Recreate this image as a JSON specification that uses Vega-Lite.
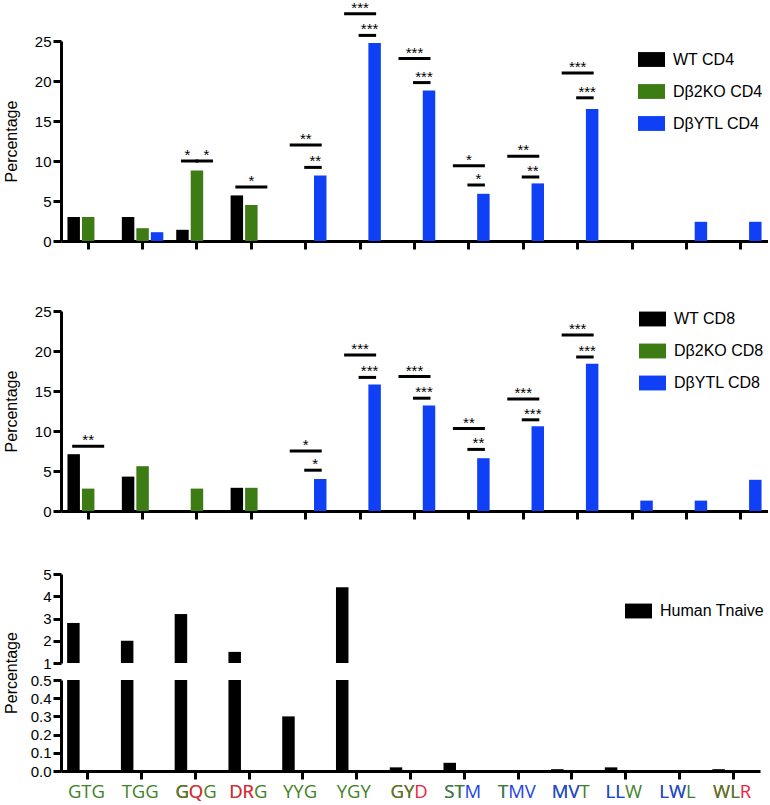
{
  "$schema": "https://vega.github.io/schema/vega-lite/v6.json",
  "padding": {"left": 3, "top": 0, "right": 0, "bottom": 0},
  "spacing": 63,
  "bounds": "flush",
  "datasets": {
    "cd4": [
      {"cat": "GTG", "sample": "WT", "pct": 3.0},
      {"cat": "GTG", "sample": "KO", "pct": 3.0},
      {"cat": "TGG", "sample": "WT", "pct": 3.0},
      {"cat": "TGG", "sample": "KO", "pct": 1.6},
      {"cat": "TGG", "sample": "YTL", "pct": 1.1},
      {"cat": "GQG", "sample": "WT", "pct": 1.4},
      {"cat": "GQG", "sample": "KO", "pct": 8.8},
      {"cat": "DRG", "sample": "WT", "pct": 5.7},
      {"cat": "DRG", "sample": "KO", "pct": 4.5},
      {"cat": "YYG", "sample": "YTL", "pct": 8.2},
      {"cat": "YGY", "sample": "YTL", "pct": 24.75},
      {"cat": "GYD", "sample": "YTL", "pct": 18.8},
      {"cat": "STM", "sample": "YTL", "pct": 5.9},
      {"cat": "TMV", "sample": "YTL", "pct": 7.2},
      {"cat": "MVT", "sample": "YTL", "pct": 16.5},
      {"cat": "LWL", "sample": "YTL", "pct": 2.4},
      {"cat": "WLR", "sample": "YTL", "pct": 2.4}
    ],
    "cd8": [
      {"cat": "GTG", "sample": "WT", "pct": 7.1},
      {"cat": "GTG", "sample": "KO", "pct": 2.8},
      {"cat": "TGG", "sample": "WT", "pct": 4.3},
      {"cat": "TGG", "sample": "KO", "pct": 5.6},
      {"cat": "GQG", "sample": "KO", "pct": 2.8},
      {"cat": "DRG", "sample": "WT", "pct": 2.9},
      {"cat": "DRG", "sample": "KO", "pct": 2.9},
      {"cat": "YYG", "sample": "YTL", "pct": 4.0},
      {"cat": "YGY", "sample": "YTL", "pct": 15.8},
      {"cat": "GYD", "sample": "YTL", "pct": 13.2},
      {"cat": "STM", "sample": "YTL", "pct": 6.6},
      {"cat": "TMV", "sample": "YTL", "pct": 10.6},
      {"cat": "MVT", "sample": "YTL", "pct": 18.4},
      {"cat": "LLW", "sample": "YTL", "pct": 1.3},
      {"cat": "LWL", "sample": "YTL", "pct": 1.3},
      {"cat": "WLR", "sample": "YTL", "pct": 3.9}
    ],
    "tn": [
      {"cat": "GTG", "sample": "Human Tnaive", "pct": 2.8},
      {"cat": "TGG", "sample": "Human Tnaive", "pct": 2.0},
      {"cat": "GQG", "sample": "Human Tnaive", "pct": 3.2},
      {"cat": "DRG", "sample": "Human Tnaive", "pct": 1.5},
      {"cat": "YYG", "sample": "Human Tnaive", "pct": 0.3},
      {"cat": "YGY", "sample": "Human Tnaive", "pct": 4.4},
      {"cat": "GYD", "sample": "Human Tnaive", "pct": 0.02},
      {"cat": "STM", "sample": "Human Tnaive", "pct": 0.045},
      {"cat": "MVT", "sample": "Human Tnaive", "pct": 0.01},
      {"cat": "LLW", "sample": "Human Tnaive", "pct": 0.02},
      {"cat": "WLR", "sample": "Human Tnaive", "pct": 0.01}
    ],
    "sig4": [
      {"cat": "GQG", "from": "WT", "to": "KO", "y": 10.0, "stars": "*"},
      {"cat": "GQG", "from": "KO", "to": "YTL", "y": 10.0, "stars": "*"},
      {"cat": "DRG", "from": "WT", "to": "YTL", "y": 6.75, "stars": "*"},
      {"cat": "YYG", "from": "WT", "to": "YTL", "y": 12.0, "stars": "**"},
      {"cat": "YYG", "from": "KO", "to": "YTL", "y": 9.2, "stars": "**"},
      {"cat": "YGY", "from": "WT", "to": "YTL", "y": 28.4, "stars": "***"},
      {"cat": "YGY", "from": "KO", "to": "YTL", "y": 25.7, "stars": "***"},
      {"cat": "GYD", "from": "WT", "to": "YTL", "y": 22.8, "stars": "***"},
      {"cat": "GYD", "from": "KO", "to": "YTL", "y": 19.8, "stars": "***"},
      {"cat": "STM", "from": "WT", "to": "YTL", "y": 9.4, "stars": "*"},
      {"cat": "STM", "from": "KO", "to": "YTL", "y": 7.0, "stars": "*"},
      {"cat": "TMV", "from": "WT", "to": "YTL", "y": 10.6, "stars": "**"},
      {"cat": "TMV", "from": "KO", "to": "YTL", "y": 8.0, "stars": "**"},
      {"cat": "MVT", "from": "WT", "to": "YTL", "y": 21.0, "stars": "***"},
      {"cat": "MVT", "from": "KO", "to": "YTL", "y": 17.9, "stars": "***"}
    ],
    "sig8": [
      {"cat": "GTG", "from": "WT", "to": "YTL", "y": 8.1, "stars": "**"},
      {"cat": "YYG", "from": "WT", "to": "YTL", "y": 7.5, "stars": "*"},
      {"cat": "YYG", "from": "KO", "to": "YTL", "y": 5.1, "stars": "*"},
      {"cat": "YGY", "from": "WT", "to": "YTL", "y": 19.5, "stars": "***"},
      {"cat": "YGY", "from": "KO", "to": "YTL", "y": 16.7, "stars": "***"},
      {"cat": "GYD", "from": "WT", "to": "YTL", "y": 16.8, "stars": "***"},
      {"cat": "GYD", "from": "KO", "to": "YTL", "y": 14.1, "stars": "***"},
      {"cat": "STM", "from": "WT", "to": "YTL", "y": 10.3, "stars": "**"},
      {"cat": "STM", "from": "KO", "to": "YTL", "y": 7.7, "stars": "**"},
      {"cat": "TMV", "from": "WT", "to": "YTL", "y": 14.0, "stars": "***"},
      {"cat": "TMV", "from": "KO", "to": "YTL", "y": 11.4, "stars": "***"},
      {"cat": "MVT", "from": "WT", "to": "YTL", "y": 22.0, "stars": "***"},
      {"cat": "MVT", "from": "KO", "to": "YTL", "y": 19.25, "stars": "***"}
    ],
    "labs": [
      {"cat": "GTG", "text": "GTG", "res": "g"},
      {"cat": "TGG", "text": "TGG", "res": "g"},
      {"cat": "GQG", "text": "GQG", "res": "g"},
      {"cat": "DRG", "text": "DRG", "res": "g"},
      {"cat": "YYG", "text": "YYG", "res": "g"},
      {"cat": "YGY", "text": "YGY", "res": "g"},
      {"cat": "GYD", "text": "GYD", "res": "r"},
      {"cat": "STM", "text": "STM", "res": "b"},
      {"cat": "TMV", "text": "TMV", "res": "b"},
      {"cat": "MVT", "text": "MVT", "res": "g"},
      {"cat": "LLW", "text": "LLW", "res": "g"},
      {"cat": "LWL", "text": "LWL", "res": "g"},
      {"cat": "WLR", "text": "WLR", "res": "r"},
      {"cat": "GQG", "text": "GQ", "res": "r"},
      {"cat": "DRG", "text": "DR", "res": "r"},
      {"cat": "GYD", "text": "GY", "res": "g"},
      {"cat": "STM", "text": "ST", "res": "g"},
      {"cat": "MVT", "text": "MV", "res": "b"},
      {"cat": "LLW", "text": "LL", "res": "b"},
      {"cat": "LWL", "text": "LW", "res": "b"},
      {"cat": "WLR", "text": "WL", "res": "g"},
      {"cat": "GQG", "text": "G", "res": "g"},
      {"cat": "TMV", "text": "T", "res": "g"}
    ]
  },
  "vconcat": [
    {
      "width": 707,
      "height": 200,
      "encoding": {
        "x": {"field": "cat", "type": "nominal",
          "scale": {"domain": ["GTG","TGG","GQG","DRG","YYG","YGY","GYD","STM","TMV","MVT","LLW","LWL","WLR"], "paddingInner": 0, "paddingOuter": 0},
          "axis": {"labels": false, "title": null}}
      },
      "layer": [
        {
          "data": {"name": "cd4"},
          "mark": {"type": "bar"},
          "encoding": {
            "xOffset": {"field": "sample", "type": "nominal",
              "scale": {"domain": ["WT","KO","YTL"], "paddingInner": 0.14, "paddingOuter": 0.445}},
            "y": {"field": "pct", "type": "quantitative", "stack": null,
              "scale": {"domain": [0, 25]},
              "axis": {"values": [0,5,10,15,20,25], "title": "Percentage"}},
            "color": {"field": "sample", "type": "nominal",
              "scale": {"domain": ["WT","KO","YTL"], "range": ["#000000","#3d7c14","#1040f5"]},
              "legend": {"title": null, "orient": "none", "legendX": 577, "legendY": 5,
                "labelExpr": "datum.label == 'WT' ? 'WT CD4' : datum.label == 'KO' ? 'Dβ2KO CD4' : 'DβYTL CD4'"}}
          }
        },
        {
          "data": {"name": "sig4"},
          "transform": [{"fold": ["from", "to"], "as": ["end", "sample"]}],
          "mark": {"type": "line", "color": "black", "strokeWidth": 3, "strokeCap": "square"},
          "encoding": {
            "xOffset": {"field": "sample", "type": "nominal"},
            "y": {"field": "y", "type": "quantitative", "scale": {"domain": [0, 25]},
              "axis": {"values": [0,5,10,15,20,25], "title": "Percentage"}},
            "detail": [{"field": "cat"}, {"field": "from"}, {"field": "to"}]
          }
        },
        {
          "data": {"name": "sig4"},
          "transform": [{"filter": "datum.from == 'WT' && datum.to == 'YTL'"}],
          "mark": {"type": "text", "font": "Liberation Sans", "fontSize": 15, "baseline": "alphabetic", "dy": -1},
          "encoding": {
            "xOffset": {"datum": "KO"},
            "y": {"field": "y", "type": "quantitative", "scale": {"domain": [0, 25]},
              "axis": {"values": [0,5,10,15,20,25], "title": "Percentage"}},
            "text": {"field": "stars"}
          }
        },
        {
          "data": {"name": "sig4"},
          "transform": [{"filter": "datum.from == 'KO' && datum.to == 'YTL'"}],
          "mark": {"type": "text", "font": "Liberation Sans", "fontSize": 15, "baseline": "alphabetic", "dy": -1, "dx": -5},
          "encoding": {
            "xOffset": {"datum": "YTL"},
            "y": {"field": "y", "type": "quantitative", "scale": {"domain": [0, 25]},
              "axis": {"values": [0,5,10,15,20,25], "title": "Percentage"}},
            "text": {"field": "stars"}
          }
        },
        {
          "data": {"name": "sig4"},
          "transform": [{"filter": "datum.from == 'WT' && datum.to == 'KO'"}],
          "mark": {"type": "text", "font": "Liberation Sans", "fontSize": 15, "baseline": "alphabetic", "dy": -1, "dx": 5},
          "encoding": {
            "xOffset": {"datum": "WT"},
            "y": {"field": "y", "type": "quantitative", "scale": {"domain": [0, 25]},
              "axis": {"values": [0,5,10,15,20,25], "title": "Percentage"}},
            "text": {"field": "stars"}
          }
        }
      ]
    },
    {
      "width": 707,
      "height": 207,
      "encoding": {
        "x": {"field": "cat", "type": "nominal",
          "scale": {"domain": ["GTG","TGG","GQG","DRG","YYG","YGY","GYD","STM","TMV","MVT","LLW","LWL","WLR"], "paddingInner": 0, "paddingOuter": 0},
          "axis": {"labels": false, "title": null}}
      },
      "layer": [
        {
          "data": {"name": "cd8"},
          "mark": {"type": "bar"},
          "encoding": {
            "xOffset": {"field": "sample", "type": "nominal",
              "scale": {"domain": ["WT","KO","YTL"], "paddingInner": 0.14, "paddingOuter": 0.445}},
            "y": {"field": "pct", "type": "quantitative", "stack": null,
              "scale": {"domain": [0, 25], "range": [207, 7]},
              "axis": {"values": [0,5,10,15,20,25], "title": "Percentage"}},
            "color": {"field": "sample", "type": "nominal",
              "scale": {"domain": ["WT","KO","YTL"], "range": ["#000000","#3d7c14","#1040f5"]},
              "legend": {"title": null, "orient": "none", "legendX": 578, "legendY": 1.5,
                "labelExpr": "datum.label == 'WT' ? 'WT CD8' : datum.label == 'KO' ? 'Dβ2KO CD8' : 'DβYTL CD8'"}}
          }
        },
        {
          "data": {"name": "sig8"},
          "transform": [{"fold": ["from", "to"], "as": ["end", "sample"]}],
          "mark": {"type": "line", "color": "black", "strokeWidth": 3, "strokeCap": "square"},
          "encoding": {
            "xOffset": {"field": "sample", "type": "nominal"},
            "y": {"field": "y", "type": "quantitative", "scale": {"domain": [0, 25], "range": [207, 7]},
              "axis": {"values": [0,5,10,15,20,25], "title": "Percentage"}},
            "detail": [{"field": "cat"}, {"field": "from"}, {"field": "to"}]
          }
        },
        {
          "data": {"name": "sig8"},
          "transform": [{"filter": "datum.from == 'WT' && datum.to == 'YTL'"}],
          "mark": {"type": "text", "font": "Liberation Sans", "fontSize": 15, "baseline": "alphabetic", "dy": -1},
          "encoding": {
            "xOffset": {"datum": "KO"},
            "y": {"field": "y", "type": "quantitative", "scale": {"domain": [0, 25], "range": [207, 7]},
              "axis": {"values": [0,5,10,15,20,25], "title": "Percentage"}},
            "text": {"field": "stars"}
          }
        },
        {
          "data": {"name": "sig8"},
          "transform": [{"filter": "datum.from == 'KO' && datum.to == 'YTL'"}],
          "mark": {"type": "text", "font": "Liberation Sans", "fontSize": 15, "baseline": "alphabetic", "dy": -1, "dx": -5},
          "encoding": {
            "xOffset": {"datum": "YTL"},
            "y": {"field": "y", "type": "quantitative", "scale": {"domain": [0, 25], "range": [207, 7]},
              "axis": {"values": [0,5,10,15,20,25], "title": "Percentage"}},
            "text": {"field": "stars"}
          }
        }
      ]
    },
    {
      "width": 699,
      "height": 197,
      "encoding": {
        "x": {"field": "cat", "type": "nominal",
          "scale": {"domain": ["GTG","TGG","GQG","DRG","YYG","YGY","GYD","STM","TMV","MVT","LLW","LWL","WLR"], "paddingInner": 0, "paddingOuter": 0},
          "axis": {"labels": false, "title": null}}
      },
      "layer": [
        {
          "data": {"name": "tn"},
          "mark": {"type": "bar", "width": 12.5, "xOffset": -14.5},
          "encoding": {
            "y": {"field": "pct", "type": "quantitative", "stack": null,
              "scale": {"domain": [1, 5], "range": [89, 0], "clamp": true, "zero": false},
              "axis": {"orient": "left", "values": [1,2,3,4,5], "title": null}},
            "y2": {"datum": 1},
            "color": {"field": "sample", "type": "nominal",
              "scale": {"domain": ["Human Tnaive"], "range": ["#000000"]},
              "legend": {"title": null, "orient": "none", "legendX": 564, "legendY": 23.5}}
          }
        },
        {
          "data": {"name": "tn"},
          "mark": {"type": "bar", "width": 12.5, "xOffset": -14.5, "color": "#000000"},
          "encoding": {
            "y": {"field": "pct", "type": "quantitative", "stack": null,
              "scale": {"domain": [0, 0.5], "range": [197, 106], "clamp": true},
              "axis": {"orient": "left", "values": [0,0.1,0.2,0.3,0.4,0.5], "format": ".1f",
                "title": "Percentage", "titleY": 98.5, "titleX": -42}}
          }
        },
        {
          "data": {"name": "labs"},
          "mark": {"type": "text", "align": "left", "baseline": "alphabetic", "dx": -20, "dy": 27,
            "font": "Open Sans", "fontSize": 18.5},
          "encoding": {
            "y": {"datum": 0, "type": "quantitative", "scale": {"domain": [0, 0.5], "range": [197, 106]}, "axis": null},
            "text": {"field": "text"},
            "color": {"field": "res", "type": "nominal",
              "scale": {"domain": ["g","r","b"], "range": ["#3f8226","#ec2340","#2343e6"]},
              "legend": null}
          }
        }
      ],
      "resolve": {"scale": {"y": "independent", "color": "independent"}, "axis": {"y": "independent"}}
    }
  ],
  "resolve": {
    "scale": {"x": "independent", "y": "independent", "xOffset": "independent", "color": "independent"},
    "legend": {"color": "independent"}
  },
  "config": {
    "view": {"stroke": null},
    "axis": {
      "grid": false,
      "domainColor": "#000000", "domainWidth": 3,
      "tickColor": "#000000", "tickWidth": 3, "tickSize": 8,
      "labelFont": "Liberation Sans", "labelFontSize": 15, "labelColor": "#000000", "labelPadding": 2,
      "titleFont": "Liberation Sans", "titleFontSize": 16, "titleFontWeight": "normal", "titleColor": "#000000", "titlePadding": 15
    },
    "legend": {
      "symbolType": "M-1,-0.55H1V0.55H-1Z", "symbolSize": 729, "symbolStrokeWidth": 0, "symbolOpacity": 1,
      "labelFont": "Liberation Sans", "labelFontSize": 16, "labelColor": "#000000", "labelOffset": 8,
      "rowPadding": 10, "padding": 0
    }
  }
}
